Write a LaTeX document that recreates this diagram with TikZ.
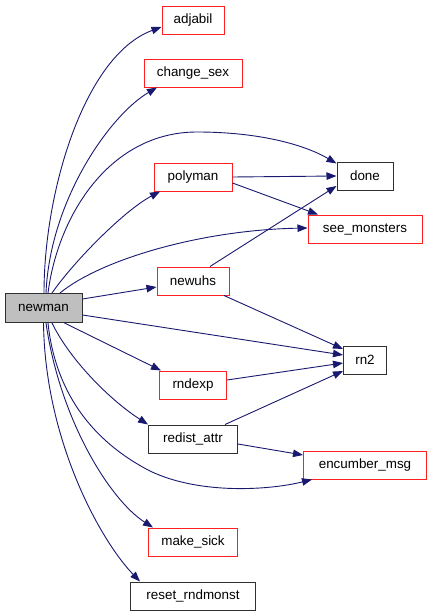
\documentclass[tikz,border=0pt]{standalone}
\usepackage{fontspec}
\setmainfont{Liberation Sans}
\usetikzlibrary{arrows.meta}
\definecolor{edgeblue}{HTML}{191970}
\definecolor{nodered}{HTML}{FF2020}
\definecolor{nodegrey}{HTML}{BFBFBF}
\definecolor{nodeborder}{HTML}{303030}
\begin{document}
\begin{tikzpicture}[x=1pt,y=-1pt,
  fn/.style={draw=nodered, line width=1pt, fill=white, rectangle, inner sep=0pt,
    minimum height=28pt, font=\fontsize{13.4}{16}\selectfont},
  fnb/.style={fn, draw=nodeborder},
  fnmain/.style={fn, draw=nodeborder, fill=nodegrey},
  call/.style={draw=edgeblue, line width=0.9pt, -{Triangle[length=10pt,width=7.5pt]}}
]
\useasboundingbox (0,0) rectangle (432,616);
\fill[white] (0,0) rectangle (432,616);

\node[fnmain, minimum width=77pt, minimum height=29pt] (newman) at (43.5,308) {newman};
\node[fn, minimum width=62pt] (adjabil) at (193,20) {adjabil};
\node[fn, minimum width=98pt] (change_sex) at (193,73) {change\_sex};
\node[fn, minimum width=78pt] (polyman) at (193,177) {polyman};
\node[fn, minimum width=72pt] (newuhs) at (193,281) {newuhs};
\node[fn, minimum width=67pt] (rndexp) at (193,385) {rndexp};
\node[fnb, minimum width=89pt] (redist_attr) at (193,439) {redist\_attr};
\node[fn, minimum width=89pt] (make_sick) at (193,542) {make\_sick};
\node[fnb, minimum width=125pt] (reset_rndmonst) at (193,596) {reset\_rndmonst};
\node[fnb, minimum width=56pt] (done) at (365,176) {done};
\node[fn, minimum width=114pt] (see_monsters) at (365,229) {see\_monsters};
\node[fnb, minimum width=43pt] (rn2) at (365,360) {rn2};
\node[fn, minimum width=123pt] (encumber_msg) at (365,465) {encumber\_msg};

% from newman, upward
\draw[call] ([xshift=0.5pt]newman.north) .. controls (44,190) and (85,55) .. ([yshift=-7pt]adjabil.west);
\draw[call] ([xshift=2.5pt]newman.north) .. controls (50,200) and (110,115) .. ([xshift=-36pt]change_sex.south);
\draw[call] ([xshift=4.5pt]newman.north) .. controls (58,215) and (110,132) .. (197,132)
   .. controls (260,132) and (305,145) .. ([yshift=-2pt]done.north west);
\draw[call] ([xshift=8.5pt]newman.north) .. controls (75,260) and (125,210) .. ([xshift=-33pt]polyman.south);
\draw[call] ([xshift=16.5pt]newman.north) .. controls (100,260) and (200,230) .. ([yshift=1pt]see_monsters.west);
\draw[call] ([yshift=9pt]newman.east) -- ([yshift=-6pt]newuhs.west);
\draw[call] ([yshift=-7pt]newman.east) -- ([yshift=5pt]rn2.west);
% from newman, downward
\draw[call] ([xshift=21pt]newman.south) -- ([xshift=-32pt]rndexp.north);
\draw[call] ([xshift=8.5pt]newman.south) .. controls (70,360) and (110,400) .. (redist_attr.north west);
\draw[call] ([xshift=4.5pt]newman.south) .. controls (55,390) and (90,440) .. (150,471)
   .. controls (200,495) and (270,490) .. ([xshift=-53pt]encumber_msg.south);
\draw[call] ([xshift=2.5pt]newman.south) .. controls (60,420) and (110,500) .. ([xshift=-40pt]make_sick.north);
\draw[call] (newman.south) .. controls (45,440) and (100,540) .. ([xshift=-53pt]reset_rndmonst.north);

% second level
\draw[call] (polyman.east) -- (done.west);
\draw[call] ([yshift=-6pt]polyman.east) -- ([xshift=-47pt]see_monsters.north);
\draw[call] ([xshift=17pt]newuhs.north) -- ([yshift=-10pt]done.west);
\draw[call] ([xshift=31pt]newuhs.south) -- ([yshift=11pt]rn2.west);
\draw[call] ([yshift=5pt]rndexp.east) -- ([yshift=-3pt]rn2.west);
\draw[call] ([xshift=32pt]redist_attr.north) -- ([yshift=-11pt]rn2.west);
\draw[call] ([yshift=-5pt]redist_attr.east) -- ([yshift=10pt]encumber_msg.west);
\end{tikzpicture}
\end{document}
